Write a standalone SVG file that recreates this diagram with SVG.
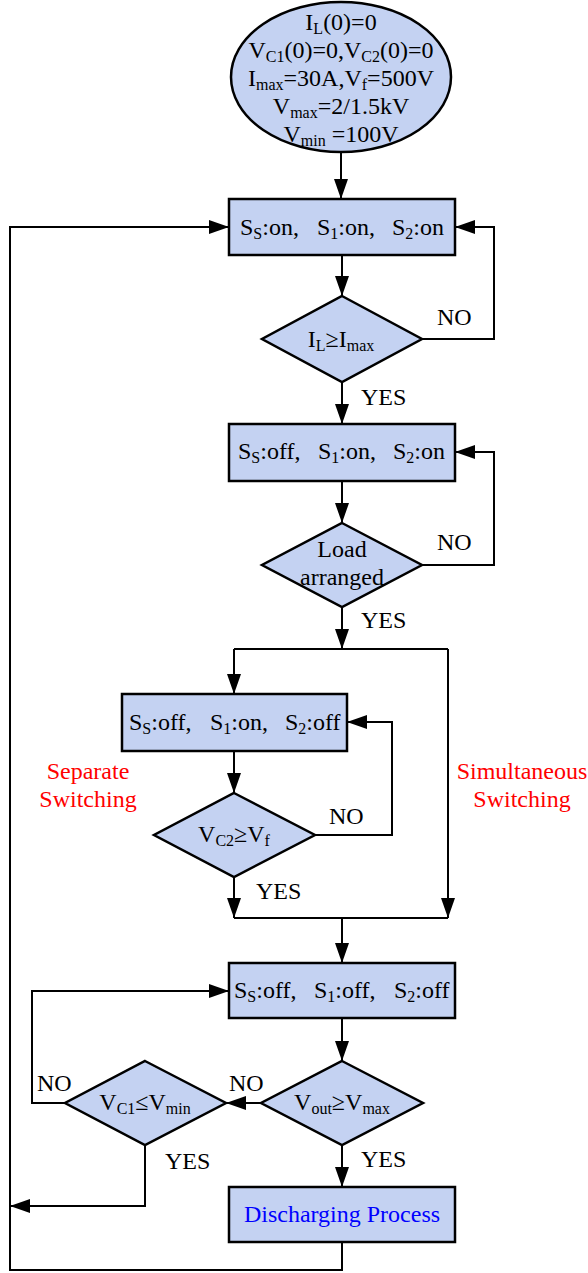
<svg xmlns="http://www.w3.org/2000/svg" width="588" height="1273" viewBox="0 0 588 1273">
<style>
.shape{fill:#C4D2F2;stroke:#000;stroke-width:2.5}
.c{fill:none;stroke:#000;stroke-width:2}
text{font-family:"Liberation Serif","Times New Roman",serif;font-size:24px;fill:#000}
.m{text-anchor:middle}
.sub{font-size:16px}
.red{fill:#FF0000}
.blue{fill:#0000FF}
</style>
<defs>
<marker id="ah" markerUnits="userSpaceOnUse" markerWidth="20" markerHeight="14" refX="20" refY="7" orient="auto">
<path d="M0,0 L20,7 L0,14 z" fill="#000"/>
</marker>
</defs>
<rect width="588" height="1273" fill="#fff"/>
<g id="connectors">
<path class="c" d="M341,152 V199" marker-end="url(#ah)"/>
<path class="c" d="M342,255 V296" marker-end="url(#ah)"/>
<path class="c" d="M422,339 H494 V227 H455" marker-end="url(#ah)"/>
<path class="c" d="M342,382 V424" marker-end="url(#ah)"/>
<path class="c" d="M342,481 V523" marker-end="url(#ah)"/>
<path class="c" d="M422,565 H494 V452 H455" marker-end="url(#ah)"/>
<path class="c" d="M342,607 V649" marker-end="url(#ah)"/>
<path class="c" d="M234,649 H448"/>
<path class="c" d="M234,649 V694" marker-end="url(#ah)"/>
<path class="c" d="M448,649 V918" marker-end="url(#ah)"/>
<path class="c" d="M234,751 V793" marker-end="url(#ah)"/>
<path class="c" d="M315,835 H392 V722 H347" marker-end="url(#ah)"/>
<path class="c" d="M234,877 V918" marker-end="url(#ah)"/>
<path class="c" d="M234,918 H448"/>
<path class="c" d="M342,918 V963" marker-end="url(#ah)"/>
<path class="c" d="M342,1018 V1061" marker-end="url(#ah)"/>
<path class="c" d="M261,1103 H226" marker-end="url(#ah)"/>
<path class="c" d="M65,1103 H32 V991 H229" marker-end="url(#ah)"/>
<path class="c" d="M145,1145 V1206 H10" marker-end="url(#ah)"/>
<path class="c" d="M342,1145 V1187" marker-end="url(#ah)"/>
<path class="c" d="M342,1242 V1270 H10 V227 H229" marker-end="url(#ah)"/>
</g>
<g id="start">
<ellipse class="shape" cx="341" cy="77" rx="110" ry="75"/>
<text class="m" x="341" y="30">I<tspan class="sub" dy="4">L</tspan><tspan dy="-4">(0)=0</tspan></text>
<text class="m" x="341" y="58">V<tspan class="sub" dy="4">C1</tspan><tspan dy="-4">(0)=0,V</tspan><tspan class="sub" dy="4">C2</tspan><tspan dy="-4">(0)=0</tspan></text>
<text class="m" x="341" y="86">I<tspan class="sub" dy="4">max</tspan><tspan dy="-4">=30A,V</tspan><tspan class="sub" dy="4">f</tspan><tspan dy="-4">=500V</tspan></text>
<text class="m" x="341" y="114">V<tspan class="sub" dy="4">max</tspan><tspan dy="-4">=2/1.5kV</tspan></text>
<text class="m" x="341" y="142">V<tspan class="sub" dy="4">min</tspan><tspan dy="-4"> =100V</tspan></text>
</g>
<g id="box1">
<rect class="shape" x="229" y="199" width="226" height="56"/>
<text x="240" y="235">S<tspan class="sub" dy="4">S</tspan><tspan dy="-4">:on,</tspan></text>
<text x="317" y="235">S<tspan class="sub" dy="4">1</tspan><tspan dy="-4">:on,</tspan></text>
<text x="392" y="235">S<tspan class="sub" dy="4">2</tspan><tspan dy="-4">:on</tspan></text>
</g>
<g id="dec1">
<polygon class="shape" points="342,296 422,339 342,382 262,339"/>
<text class="m" x="341" y="347">I<tspan class="sub" dy="4">L</tspan><tspan dy="-4">≥I</tspan><tspan class="sub" dy="4">max</tspan></text>
</g>
<g id="box2">
<rect class="shape" x="229" y="424" width="226" height="57"/>
<text x="238" y="459">S<tspan class="sub" dy="4">S</tspan><tspan dy="-4">:off,</tspan></text>
<text x="318" y="459">S<tspan class="sub" dy="4">1</tspan><tspan dy="-4">:on,</tspan></text>
<text x="393" y="459">S<tspan class="sub" dy="4">2</tspan><tspan dy="-4">:on</tspan></text>
</g>
<g id="dec2">
<polygon class="shape" points="342,523 422,565 342,607 262,565"/>
<text class="m" x="342" y="557">Load</text>
<text class="m" x="342" y="585">arranged</text>
</g>
<g id="box3">
<rect class="shape" x="122" y="694" width="225" height="57"/>
<text x="129" y="730">S<tspan class="sub" dy="4">S</tspan><tspan dy="-4">:off,</tspan></text>
<text x="210" y="730">S<tspan class="sub" dy="4">1</tspan><tspan dy="-4">:on,</tspan></text>
<text x="285" y="730">S<tspan class="sub" dy="4">2</tspan><tspan dy="-4">:off</tspan></text>
</g>
<g id="dec3">
<polygon class="shape" points="234,793 315,835 234,877 154,835"/>
<text class="m" x="234" y="842">V<tspan class="sub" dy="4">C2</tspan><tspan dy="-4">≥V</tspan><tspan class="sub" dy="4">f</tspan></text>
</g>
<g id="box4">
<rect class="shape" x="229" y="963" width="226" height="55"/>
<text x="234" y="998">S<tspan class="sub" dy="4">S</tspan><tspan dy="-4">:off,</tspan></text>
<text x="314" y="998">S<tspan class="sub" dy="4">1</tspan><tspan dy="-4">:off,</tspan></text>
<text x="394" y="998">S<tspan class="sub" dy="4">2</tspan><tspan dy="-4">:off</tspan></text>
</g>
<g id="dec4">
<polygon class="shape" points="342,1061 423,1103 342,1145 261,1103"/>
<text class="m" x="342" y="1110">V<tspan class="sub" dy="4">out</tspan><tspan dy="-4">≥V</tspan><tspan class="sub" dy="4">max</tspan></text>
</g>
<g id="dec5">
<polygon class="shape" points="145,1061 226,1103 145,1145 65,1103"/>
<text class="m" x="145" y="1110">V<tspan class="sub" dy="4">C1</tspan><tspan dy="-4">≤V</tspan><tspan class="sub" dy="4">min</tspan></text>
</g>
<g id="box5">
<rect class="shape" x="229" y="1187" width="226" height="55"/>
<text class="m blue" x="342" y="1222">Discharging Process</text>
</g>
<g id="labels">
<text x="437" y="325">NO</text>
<text x="361" y="405">YES</text>
<text x="437" y="550">NO</text>
<text x="361" y="628">YES</text>
<text x="329" y="824">NO</text>
<text x="256" y="899">YES</text>
<text class="m red" x="88" y="779">Separate</text>
<text class="m red" x="88" y="807">Switching</text>
<text class="m red" x="522" y="779">Simultaneous</text>
<text class="m red" x="522" y="807">Switching</text>
<text x="229" y="1091">NO</text>
<text x="37" y="1091">NO</text>
<text x="165" y="1169">YES</text>
<text x="361" y="1167">YES</text>
</g>
</svg>
